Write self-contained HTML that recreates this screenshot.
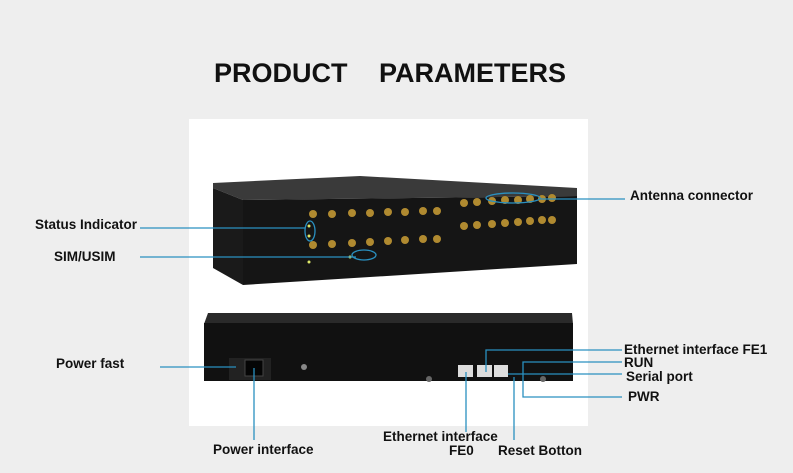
<!DOCTYPE html>
<html><head><style>
body{margin:0;width:793px;height:473px;background:#eeeeee;overflow:hidden;position:relative;font-family:"Liberation Sans",sans-serif}
.t{position:absolute;font-weight:bold;font-size:13.5px;color:#111;white-space:nowrap;line-height:14px}
</style></head><body>
<div style="position:absolute;left:0;top:58px;width:780px;text-align:center;font-weight:bold;font-size:27px;color:#111;word-spacing:24px">PRODUCT PARAMETERS</div>
<div style="position:absolute;left:189px;top:119px;width:399px;height:307px;background:#fff"></div>
<svg width="793" height="473" style="position:absolute;left:0;top:0">
<polygon points="213,183 360,176 577,188 577,196 243,200 213,188" fill="#3a3a3a"/>
<polygon points="213,188 243,200 243,285 213,268" fill="#1a1a1a"/>
<polygon points="243,200 577,196 577,264 243,285" fill="#151515"/>
<g fill="#b08a30">
<circle cx="313" cy="214" r="4"/><circle cx="332" cy="214" r="4"/><circle cx="352" cy="213" r="4"/><circle cx="370" cy="213" r="4"/><circle cx="388" cy="212" r="4"/><circle cx="405" cy="212" r="4"/><circle cx="423" cy="211" r="4"/><circle cx="437" cy="211" r="4"/>
<circle cx="313" cy="245" r="4"/><circle cx="332" cy="244" r="4"/><circle cx="352" cy="243" r="4"/><circle cx="370" cy="242" r="4"/><circle cx="388" cy="241" r="4"/><circle cx="405" cy="240" r="4"/><circle cx="423" cy="239" r="4"/><circle cx="437" cy="239" r="4"/>
<circle cx="464" cy="203" r="4"/><circle cx="477" cy="202" r="4"/><circle cx="492" cy="201" r="4"/><circle cx="505" cy="200" r="4"/><circle cx="518" cy="200" r="4"/><circle cx="530" cy="199" r="4"/><circle cx="542" cy="199" r="4"/><circle cx="552" cy="198" r="4"/>
<circle cx="464" cy="226" r="4"/><circle cx="477" cy="225" r="4"/><circle cx="492" cy="224" r="4"/><circle cx="505" cy="223" r="4"/><circle cx="518" cy="222" r="4"/><circle cx="530" cy="221" r="4"/><circle cx="542" cy="220" r="4"/><circle cx="552" cy="220" r="4"/>
</g>
<g fill="#dde86a"><circle cx="309" cy="226" r="1.5"/><circle cx="309" cy="236" r="1.5"/><circle cx="350" cy="257" r="1.5"/><circle cx="309" cy="262" r="1.5"/></g>
<polygon points="208,313 572,313 573,324 204,324" fill="#2a2a2a"/>
<rect x="204" y="323" width="369" height="58" fill="#111"/>
<rect x="229" y="358" width="42" height="22" fill="#222"/>
<rect x="245" y="360" width="18" height="16" fill="#050505" stroke="#444"/>
<rect x="458" y="365" width="15" height="12" fill="#ddd"/><rect x="477" y="365" width="15" height="12" fill="#ddd"/><rect x="494" y="365" width="14" height="12" fill="#ddd"/>
<circle cx="429" cy="379" r="3" fill="#666"/><circle cx="543" cy="379" r="3" fill="#666"/><circle cx="304" cy="367" r="3" fill="#888"/>
<g stroke="#2a90c0" stroke-width="1.3" fill="none">
<line x1="140" y1="228" x2="305" y2="228"/><ellipse cx="310" cy="231" rx="5" ry="10"/>
<line x1="140" y1="257" x2="356" y2="257"/><ellipse cx="364" cy="255" rx="12" ry="5"/>
<line x1="540" y1="199" x2="625" y2="199"/><ellipse cx="513" cy="198" rx="27" ry="5"/>
<line x1="160" y1="367" x2="236" y2="367"/>
<line x1="254" y1="368" x2="254" y2="440"/>
<line x1="466" y1="372" x2="466" y2="432"/>
<polyline points="486,372 486,350 622,350"/>
<polyline points="622,362 523,362 523,397 622,397"/>
<line x1="508" y1="374" x2="622" y2="374"/>
<line x1="514" y1="377" x2="514" y2="440"/>
</g>
</svg>
<div class="t" style="left:35px;top:218px">Status Indicator</div>
<div class="t" style="left:54px;top:250px">SIM/USIM</div>
<div class="t" style="left:630px;top:189px">Antenna connector</div>
<div class="t" style="left:56px;top:357px">Power fast</div>
<div class="t" style="left:213px;top:443px">Power interface</div>
<div class="t" style="left:383px;top:430px">Ethernet interface</div>
<div class="t" style="left:449px;top:444px">FE0</div>
<div class="t" style="left:498px;top:444px">Reset Botton</div>
<div class="t" style="left:624px;top:343px">Ethernet interface FE1</div>
<div class="t" style="left:624px;top:356px">RUN</div>
<div class="t" style="left:626px;top:370px">Serial port</div>
<div class="t" style="left:628px;top:390px">PWR</div>
</body></html>
